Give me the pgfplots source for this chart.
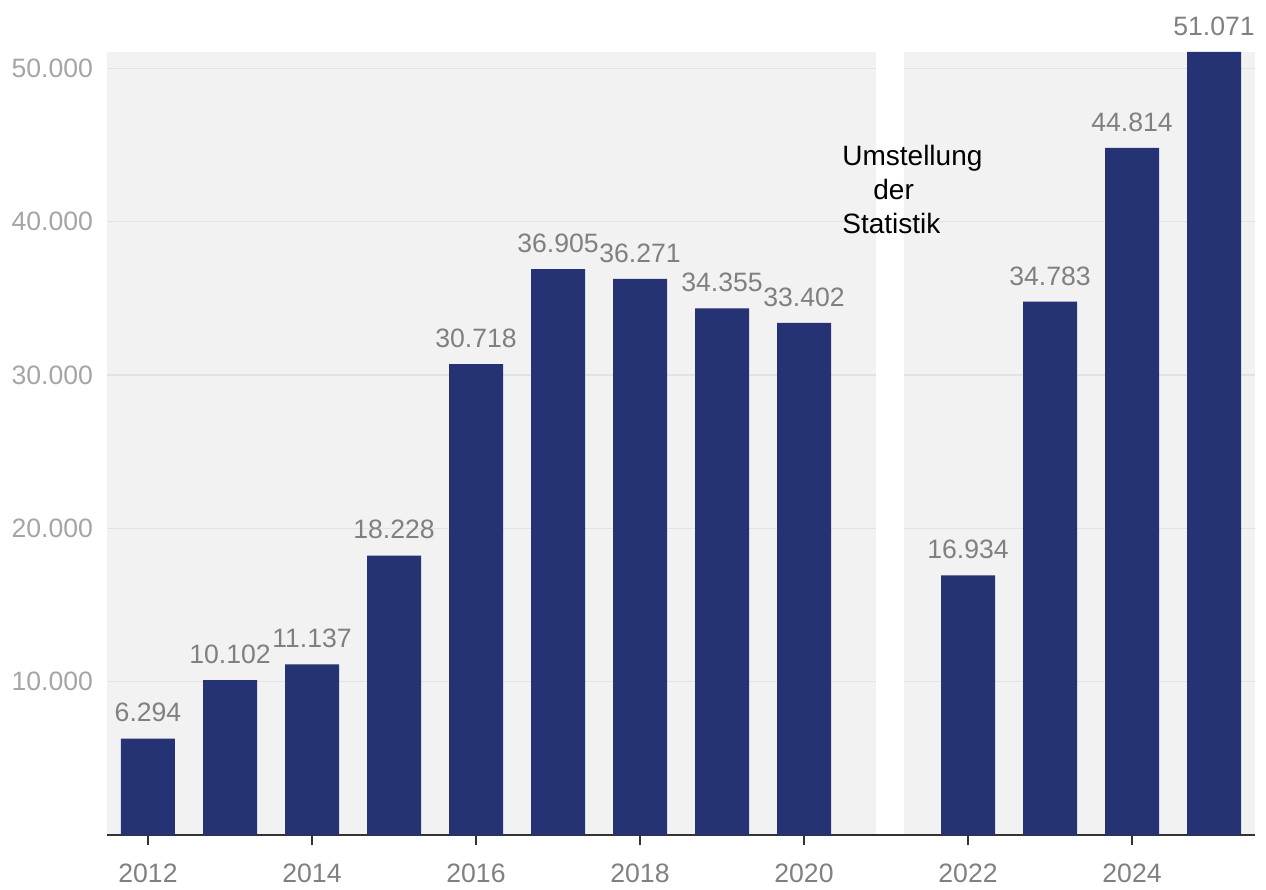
\documentclass[border=0pt]{standalone}
\usepackage{fontspec}
\setmainfont{Liberation Sans}
\usepackage{pgfplots}
\usepackage{pgfplotstable}
\pgfplotsset{compat=1.18}
\definecolor{barblue}{RGB}{37,50,116}
\definecolor{bggray}{RGB}{242,242,242}
\definecolor{gridgray}{RGB}{226,226,226}
\definecolor{lblgray}{RGB}{128,128,128}
\definecolor{ylblgray}{RGB}{165,165,165}
\definecolor{axisdark}{RGB}{51,51,51}
\pgfplotstableread{
year value label
2012 6294 6.294
2013 10102 10.102
2014 11137 11.137
2015 18228 18.228
2016 30718 30.718
2017 36905 36.905
2018 36271 36.271
2019 34355 34.355
2020 33402 33.402
2022 16934 16.934
2023 34783 34.783
2024 44814 44.814
2025 51071 51.071
}\data
\begin{document}
\begin{tikzpicture}
\begin{axis}[
  scale only axis,
  width=574pt, height=391.5pt,
  xmin=2011.5, xmax=2025.5,
  ymin=0, ymax=51071,
  clip=false,
  ybar,
  bar width=27pt,
  axis background/.style={fill=bggray},
  axis x line*=bottom,
  axis y line*=left,
  y axis line style={draw=none},
  x axis line style={draw=axisdark, line width=1pt},
  xtick={2012,2014,...,2024},
  xticklabels={2012,2014,2016,2018,2020,2022,2024},
  ytick={10000,20000,30000,40000,50000},
  yticklabels={10.000,20.000,30.000,40.000,50.000},
  scaled y ticks=false,
  ytick style={draw=none},
  xtick style={draw=axisdark, line width=1pt},
  tick align=outside,
  major tick length=5pt,
  ymajorgrids,
  grid style={draw=gridgray, line width=0.6pt},
  xticklabel style={font=\fontsize{13.3}{15}\selectfont, text=lblgray, yshift=-6pt},
  yticklabel style={font=\fontsize{13.3}{15}\selectfont, text=ylblgray, xshift=1.5pt},
  tick label style={/pgf/number format/assume math mode=true},
]
\fill[white] (axis cs:2020.88,70) rectangle (axis cs:2021.22,51071);
\addplot[fill=barblue, draw=none,
  nodes near coords,
  point meta=explicit symbolic,
  nodes near coords style={font=\fontsize{13.3}{15}\selectfont, text=lblgray, inner sep=0pt, anchor=south, yshift=8pt}]
  table[x=year, y=value, meta=label] {\data};
\node[anchor=north west, inner sep=0pt, align=left, font=\fontsize{14}{17}\selectfont]
  at (axis cs:2020.463,45040) {Umstellung\\\hspace{15.5pt}der\\Statistik};
\path (rel axis cs:0,0) ++(-53.5pt,-25.5pt) coordinate (bl);
\path (rel axis cs:1,1) ++(5.5pt,26pt) coordinate (tr);
\end{axis}
\path (bl) rectangle (tr);
\end{tikzpicture}
\end{document}
